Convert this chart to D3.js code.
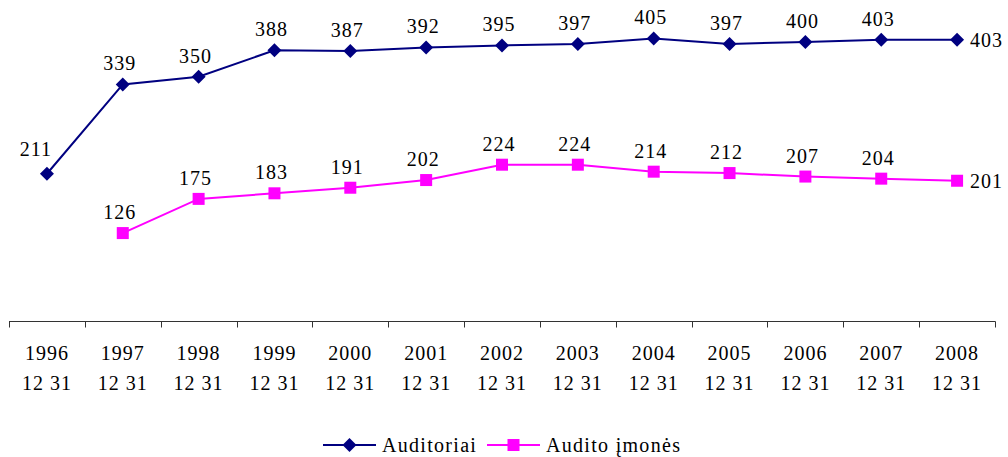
<!DOCTYPE html>
<html>
<head>
<meta charset="utf-8">
<script src="https://cdn.jsdelivr.net/npm/d3@7"></script>
<style>
  body { margin: 0; background: #fff; }
  text { font-family: "Liberation Serif", "Times New Roman", serif; fill: #000; }
</style>
</head>
<body>
<div id="chart"></div>
<script>
// ---- data ----
const years = ["1996", "1997", "1998", "1999", "2000", "2001", "2002", "2003", "2004", "2005", "2006", "2007", "2008"];
const auditoriai = [211, 339, 350, 388, 387, 392, 395, 397, 405, 397, 400, 403, 403];
const imones = [null, 126, 175, 183, 191, 202, 224, 224, 214, 212, 207, 204, 201];

const W = 1008, H = 457;
const svg = d3.select("#chart").append("svg")
    .attr("width", W).attr("height", H);

const x = d3.scaleBand().domain(years).range([9, 995]);
const y = d3.scaleLinear().domain([0, 450]).range([321, 7]);
const cx = d => x(d) + x.bandwidth() / 2;

// ---- x axis ----
const axis = svg.append("g").attr("transform", "translate(0,321.5)");
axis.append("line").attr("x1", 9).attr("x2", 995.5).attr("stroke", "#333").attr("stroke-width", 1);
axis.selectAll("line.tick")
    .data(years.concat(["end"]))
    .join("line")
    .attr("class", "tick")
    .attr("x1", (d, i) => Math.round(9 + i * x.bandwidth()) + 0.5)
    .attr("x2", (d, i) => Math.round(9 + i * x.bandwidth()) + 0.5)
    .attr("y1", 0).attr("y2", 6)
    .attr("stroke", "#333");

const lab = axis.selectAll("text.yl").data(years).join("text")
    .attr("x", d => cx(d))
    .attr("text-anchor", "middle")
    .style("font-size", "20px")
    .style("letter-spacing", "1px");
lab.append("tspan").attr("x", d => cx(d)).attr("y", 38).text(d => d);
lab.append("tspan").attr("x", d => cx(d)).attr("y", 68).text("12 31");

// ---- series ----
const series = [
  { name: "Auditoriai", values: auditoriai, color: "#000080", shape: "diamond" },
  { name: "Audito įmonės", values: imones, color: "#FF00FF", shape: "square" }
];

const line = d3.line()
    .defined(d => d.v != null)
    .x(d => cx(d.year))
    .y(d => y(d.v));

function marker(g, shape, color) {
  if (shape === "diamond") {
    g.append("path").attr("d", "M0,-7L7,0L0,7L-7,0Z").attr("fill", color);
  } else {
    g.append("rect").attr("x", -6).attr("y", -6).attr("width", 12).attr("height", 12).attr("fill", color);
  }
}

series.forEach(s => {
  const pts = years.map((yr, i) => ({ year: yr, v: s.values[i] }));
  svg.append("path").datum(pts)
      .attr("d", line)
      .attr("fill", "none")
      .attr("stroke", s.color)
      .attr("stroke-width", 2);

  pts.filter(p => p.v != null).forEach((p, i, arr) => {
    const g = svg.append("g").attr("transform", `translate(${cx(p.year)},${y(p.v)})`);
    marker(g, s.shape, s.color);
    const last = i === arr.length - 1;
    const first = s.shape === "diamond" && i === 0;
    svg.append("text")
        .attr("x", last ? cx(p.year) + 13 : cx(p.year) - (first ? 11 : 3))
        .attr("y", last ? y(p.v) + 7 : y(p.v) - (first ? 18 : 14))
        .attr("text-anchor", last ? "start" : "middle")
        .style("font-size", "20px")
        .style("letter-spacing", "1px")
        .text(p.v);
  });
});

// ---- legend ----
const legend = svg.append("g").attr("transform", "translate(0,445)");
const lx = [323, 487];
series.forEach((s, i) => {
  const g = legend.append("g").attr("transform", `translate(${lx[i]},0)`);
  g.append("line").attr("x1", 0).attr("x2", 53).attr("stroke", s.color).attr("stroke-width", 2);
  const m = g.append("g").attr("transform", "translate(26.5,0)");
  marker(m, s.shape, s.color);
  g.append("text").attr("x", 59).attr("y", 7)
      .style("font-size", "20px")
      .style("letter-spacing", "1.3px")
      .text(s.name);
});
</script>
</body>
</html>
